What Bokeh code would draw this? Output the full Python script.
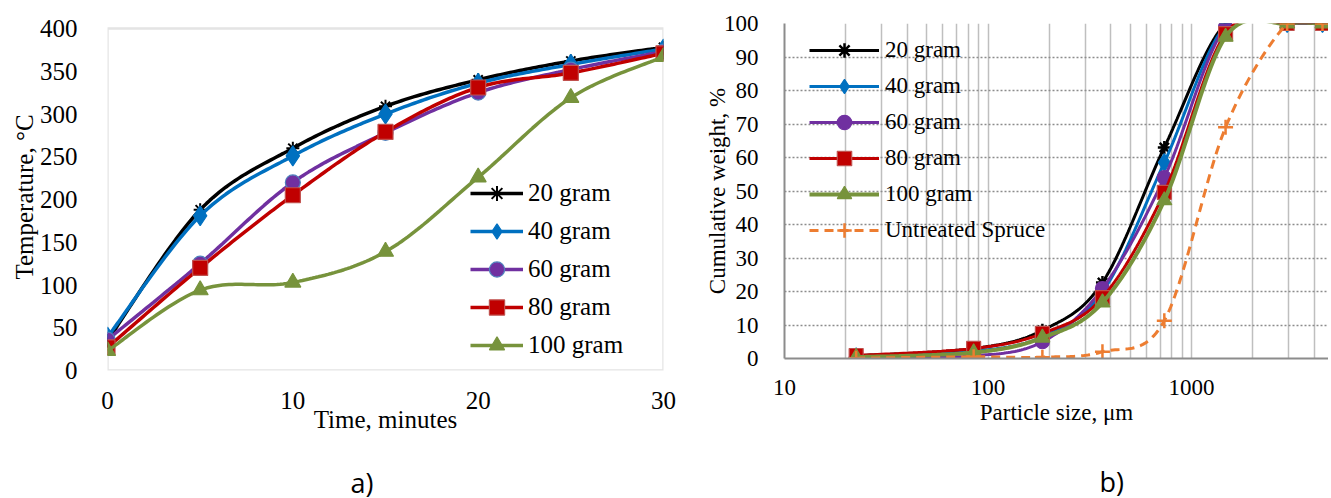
import numpy as np
from bokeh.plotting import figure
from bokeh.layouts import row
from bokeh.models import (Legend, LegendItem, Title, PrintfTickFormatter,
                          FixedTicker, Range1d, BoxAnnotation)
from bokeh.embed import file_html
from bokeh.resources import INLINE

# ---------------- data: chart a) ----------------
time_min = [0, 5, 10, 15, 20, 25, 30]
temp_20g = [35, 188, 260, 309, 340, 362, 378]
temp_40g = [39, 181, 251, 300, 336, 358, 376]
temp_60g = [36, 125, 220, 278, 325, 352, 373]
temp_80g = [27, 120, 205, 279, 331, 348, 371]
temp_100g = [23, 94, 103, 139, 226, 319, 367]
labels_a = ["20 gram", "40 gram", "60 gram", "80 gram", "100 gram"]
time_ticks = [0, 10, 20, 30]
temp_ticks = [0, 50, 100, 150, 200, 250, 300, 350, 400]

# ---------------- data: chart b) ----------------
particle_size = [22.5, 85, 185, 365, 735, 1470, 2950, 4400]
cum_20g = [0.8, 3.0, 8.4, 22.7, 63.0, 100, 100, 100]
cum_40g = [0.5, 2.2, 6.5, 19.8, 58.5, 99.5, 100, 100]
cum_60g = [0.3, 0.8, 5.0, 20.9, 54.0, 99.0, 100, 100]
cum_80g = [0.9, 3.0, 7.5, 18.2, 49.6, 97.0, 100, 100]
cum_100g = [0.4, 1.8, 6.2, 16.7, 47.2, 96.0, 100, 100]
cum_spruce = [0.1, 0.5, 0.4, 2.0, 11.3, 69.0, 100, 100]
labels_b = ["20 gram", "40 gram", "60 gram", "80 gram", "100 gram", "Untreated Spruce"]
size_ticks = [10, 100, 1000]
size_minor_ticks = [20, 30, 40, 50, 60, 70, 80, 90,
                    200, 300, 400, 500, 600, 700, 800, 900,
                    2000, 3000, 4000]
cum_ticks = [0, 10, 20, 30, 40, 50, 60, 70, 80, 90, 100]

SERIF = "Liberation Serif"


def smooth(xs, ys, n=30):
    """Excel-style smoothed line (Bezier through the points)."""
    xs = np.asarray(xs, float)
    ys = np.asarray(ys, float)
    P = np.column_stack([xs, ys])
    P = np.vstack([P[0], P, P[-1]])
    out = []
    for i in range(1, len(P) - 2):
        p0, p1, p2, p3 = P[i - 1], P[i], P[i + 1], P[i + 2]
        c1 = p1 + (p2 - p0) / 6.0
        c2 = p2 - (p3 - p1) / 6.0
        t = np.linspace(0, 1, n)[:, None]
        seg = ((1 - t) ** 3) * p1 + 3 * ((1 - t) ** 2) * t * c1 + 3 * (1 - t) * t ** 2 * c2 + t ** 3 * p2
        out.append(seg if i == 1 else seg[1:])
    out = np.vstack(out)
    return out[:, 0], out[:, 1]


def panel_caption(p, text, offset, gap):
    # blank spacer title then the caption, both below the x axis
    p.add_layout(Title(text=" ", text_font_size="10px", standoff=gap), "below")
    p.add_layout(Title(text=text, align="left", offset=offset, standoff=0,
                       text_font="Open Sans", text_font_size="27px",
                       text_font_style="normal", text_color="#000000"), "below")


# ================= chart a) =================
FRAME_A_H = 347          # frame is a little taller than the 0..400 box
BOX_A_H = 342
pa = figure(frame_width=556, frame_height=FRAME_A_H,
            min_border_left=107, min_border_right=27,
            min_border_top=23, min_border_bottom=124,
            x_range=Range1d(time_ticks[0], time_ticks[-1]),
            y_range=Range1d(temp_ticks[0], temp_ticks[-1] * FRAME_A_H / BOX_A_H),
            output_backend="svg", toolbar_location=None)
pa.background_fill_color = "white"
pa.border_fill_color = "white"
pa.outline_line_color = None
pa.xgrid.grid_line_color = None
pa.ygrid.grid_line_color = None
pa.add_layout(BoxAnnotation(left=time_ticks[0], right=time_ticks[-1],
                            bottom=temp_ticks[0], top=temp_ticks[-1],
                            fill_alpha=0, line_color="#A6A6A6", line_width=2.5,
                            level="underlay"))

styles_a = [
    dict(color="#000000", marker="asterisk", size=13, fill="#000000", outline="#000000", lw=3.5),
    dict(color="#0070C0", marker="diamond", size=20, fill="#0070C0", outline="#0070C0", lw=3.5),
    dict(color="#7030A0", marker="circle", size=15, fill="#7030A0", outline="#4F81BD", lw=3.5),
    dict(color="#C00000", marker="square", size=15, fill="#C00000", outline="#C0504D", lw=3.5),
    dict(color="#77933C", marker="triangle", size=16, fill="#77933C", outline="#77933C", lw=3.5),
]
series_a = [temp_20g, temp_40g, temp_60g, temp_80g, temp_100g]
items_a = []
for lab, ys, st in zip(labels_a, series_a, styles_a):
    sx, sy = smooth(time_min, ys)
    lr = pa.line(sx, sy, line_color=st["color"], line_width=st["lw"])
    mr = pa.scatter(time_min, ys, marker=st["marker"], size=st["size"],
                    fill_color=st["fill"], line_color=st["outline"],
                    line_width=2 if st["marker"] == "asterisk" else 1.2)
    items_a.append(LegendItem(label=lab, renderers=[lr, mr]))

leg_a = Legend(items=items_a, location=(363, 6), orientation="vertical",
               glyph_width=53, glyph_height=38, label_height=38, spacing=0,
               label_standoff=5, padding=0, margin=0,
               border_line_color=None, background_fill_alpha=0,
               label_text_font=SERIF, label_text_font_size="25px",
               label_text_color="#000000")
pa.add_layout(leg_a, "center")

for ax in (pa.xaxis[0], pa.yaxis[0]):
    ax.axis_line_color = None
    ax.major_tick_line_color = None
    ax.minor_tick_line_color = None
    ax.major_label_text_font = SERIF
    ax.major_label_text_font_size = "25px"
    ax.major_label_text_color = "#000000"
    ax.axis_label_text_font = SERIF
    ax.axis_label_text_font_size = "25px"
    ax.axis_label_text_font_style = "normal"
    ax.axis_label_text_color = "#000000"

pa.xaxis.ticker = FixedTicker(ticks=time_ticks)
pa.yaxis.ticker = FixedTicker(ticks=temp_ticks)
pa.xaxis.major_label_standoff = 15
pa.yaxis.major_label_standoff = 24
pa.xaxis.axis_label = "Time, minutes"
pa.xaxis.axis_label_standoff = -6
pa.yaxis.axis_label = "Temperature, °C"
pa.yaxis.axis_label_standoff = -1

panel_caption(pa, "a)", offset=243, gap=13)

# ================= chart b) =================
pb = figure(frame_width=544, frame_height=335,
            min_border_left=94, min_border_right=0,
            min_border_top=23, min_border_bottom=136,
            x_axis_type="log",
            x_range=Range1d(10, 4710), y_range=Range1d(0, 100),
            output_backend="svg", toolbar_location=None)
pb.background_fill_color = "white"
pb.border_fill_color = "white"
pb.outline_line_color = None

xt = FixedTicker(ticks=size_ticks, minor_ticks=size_minor_ticks)
pb.xaxis.ticker = xt
pb.xgrid.ticker = xt
pb.xgrid.grid_line_color = "#BFBFBF"
pb.xgrid.grid_line_width = 1.5
pb.xgrid.minor_grid_line_color = "#BFBFBF"
pb.xgrid.minor_grid_line_width = 1.5
yt = FixedTicker(ticks=cum_ticks)
pb.yaxis.ticker = yt
pb.ygrid.ticker = yt
pb.ygrid.grid_line_color = "#8C8C8C"
pb.ygrid.grid_line_width = 1.5
pb.ygrid.grid_line_dash = "2 2"

styles_b = [
    dict(color="#000000", marker="asterisk", size=13, fill="#000000", outline="#000000", lw=3, dash="solid"),
    dict(color="#0070C0", marker="diamond", size=18, fill="#0070C0", outline="#0070C0", lw=3, dash="solid"),
    dict(color="#7030A0", marker="circle", size=14, fill="#7030A0", outline="#7030A0", lw=3, dash="solid"),
    dict(color="#C00000", marker="square", size=14, fill="#C00000", outline="#C0504D", lw=3, dash="solid"),
    dict(color="#77933C", marker="triangle", size=15, fill="#77933C", outline="#77933C", lw=4, dash="solid"),
    dict(color="#ED7D31", marker="cross", size=15, fill="#ED7D31", outline="#ED7D31", lw=3, dash="9 6"),
]
series_b = [cum_20g, cum_40g, cum_60g, cum_80g, cum_100g, cum_spruce]
items_b = []
logx = np.log10(particle_size)
for lab, ys, st in zip(labels_b, series_b, styles_b):
    sx, sy = smooth(logx, ys)
    lr = pb.line(10 ** sx, sy, line_color=st["color"], line_width=st["lw"],
                 line_dash=st["dash"])
    mr = pb.scatter(particle_size, ys, marker=st["marker"], size=st["size"],
                    fill_color=st["fill"], line_color=st["outline"],
                    line_width=2.5 if st["marker"] in ("asterisk", "cross") else 1.2)
    items_b.append(LegendItem(label=lab, renderers=[lr, mr]))

leg_b = Legend(items=items_b, location=(25, 110), orientation="vertical",
               glyph_width=70, glyph_height=36, label_height=36, spacing=0,
               label_standoff=6, padding=0, margin=0,
               border_line_color=None, background_fill_alpha=0,
               label_text_font=SERIF, label_text_font_size="23px",
               label_text_color="#000000")
pb.add_layout(leg_b, "center")

for ax in (pb.xaxis[0], pb.yaxis[0]):
    ax.axis_line_color = "#8C8C8C"
    ax.axis_line_width = 2
    ax.major_tick_line_color = None
    ax.minor_tick_line_color = None
    ax.major_label_text_font = SERIF
    ax.major_label_text_font_size = "23px"
    ax.major_label_text_color = "#000000"
    ax.axis_label_text_font = SERIF
    ax.axis_label_text_font_size = "23px"
    ax.axis_label_text_font_style = "normal"
    ax.axis_label_text_color = "#000000"

pb.xaxis.formatter = PrintfTickFormatter(format="%d")
pb.xaxis.major_label_standoff = 15
pb.yaxis.major_label_standoff = 20
pb.xaxis.axis_label = "Particle size, μm"
pb.xaxis.axis_label_standoff = 2
pb.yaxis.axis_label = "Cumulative weight, %"
pb.yaxis.axis_label_standoff = -9

panel_caption(pb, "b)", offset=315, gap=20)

layout = row(pa, pb)
open("out.html", "w").write(file_html(layout, INLINE))
